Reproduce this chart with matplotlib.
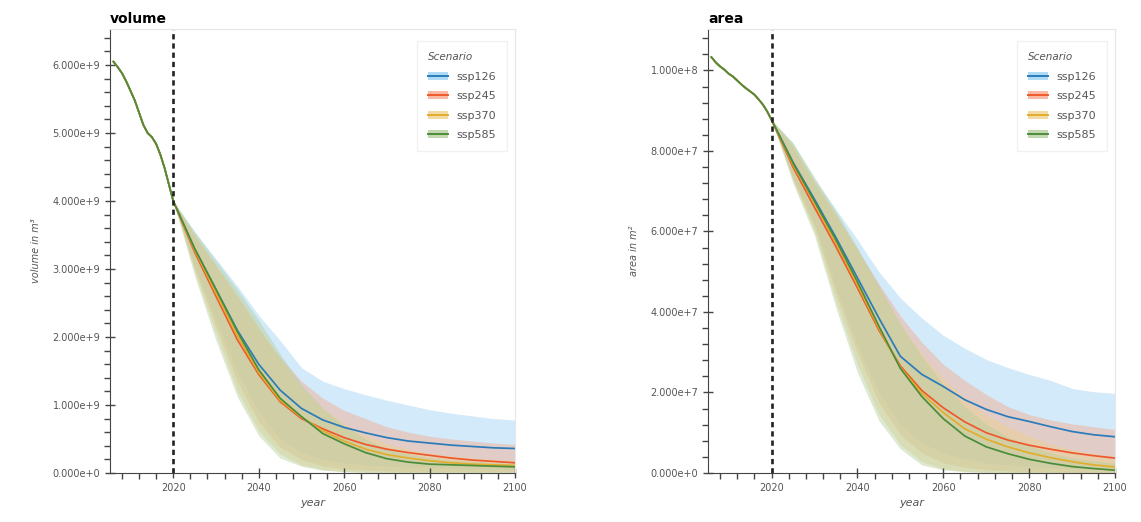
"""Glacier volume and area projections per SSP scenario (median + spread)."""

from __future__ import annotations

import matplotlib

matplotlib.use("Agg")
import matplotlib.pyplot as plt  # noqa: E402
import numpy as np  # noqa: E402
from matplotlib.lines import Line2D  # noqa: E402
from matplotlib.patches import Patch  # noqa: E402
from matplotlib.ticker import FuncFormatter, MultipleLocator  # noqa: E402

SCENARIOS = ["ssp126", "ssp245", "ssp370", "ssp585"]
COLORS = {"ssp126": "#2b7bba", "ssp245": "#f0582c", "ssp370": "#e3ad2c", "ssp585": "#4a8c3a"}
BAND_COLORS = {"ssp126": "#9dd2f2", "ssp245": "#f5a88e", "ssp370": "#edd28e", "ssp585": "#b5cf9c"}

HIST_YEARS = np.arange(2006, 2021)
FUT_YEARS = np.arange(2020, 2101, 5)

# volume, 1e9 m3
VOL_HIST = [6.05, 5.97, 5.88, 5.76, 5.62, 5.48, 5.30, 5.12, 5.00, 4.94, 4.84, 4.68, 4.48, 4.24, 4.00]
VOL_MED = {
    "ssp126": [4.0, 3.30, 2.70, 2.10, 1.60, 1.22, 0.95, 0.78, 0.67, 0.59, 0.52, 0.47, 0.44, 0.41, 0.39, 0.37, 0.36],
    "ssp245": [4.0, 3.25, 2.60, 1.96, 1.45, 1.05, 0.80, 0.65, 0.52, 0.42, 0.35, 0.30, 0.26, 0.22, 0.19, 0.17, 0.15],
    "ssp370": [4.0, 3.28, 2.65, 2.02, 1.48, 1.07, 0.82, 0.62, 0.47, 0.35, 0.27, 0.22, 0.18, 0.15, 0.13, 0.12, 0.11],
    "ssp585": [4.0, 3.30, 2.70, 2.08, 1.52, 1.10, 0.83, 0.58, 0.43, 0.30, 0.21, 0.16, 0.13, 0.12, 0.11, 0.10, 0.09],
}
VOL_LOW = {
    "ssp126": [4.0, 3.05, 2.25, 1.50, 0.90, 0.50, 0.30, 0.20, 0.15, 0.12, 0.10, 0.09, 0.08, 0.07, 0.06, 0.06, 0.05],
    "ssp245": [4.0, 3.00, 2.15, 1.35, 0.75, 0.38, 0.20, 0.10, 0.06, 0.04, 0.03, 0.02, 0.02, 0.02, 0.02, 0.02, 0.02],
    "ssp370": [4.0, 2.95, 2.05, 1.20, 0.62, 0.28, 0.12, 0.05, 0.02, 0.01, 0.01, 0.0, 0.0, 0.0, 0.0, 0.0, 0.0],
    "ssp585": [4.0, 2.90, 1.95, 1.12, 0.55, 0.22, 0.10, 0.04, 0.02, 0.01, 0.0, 0.0, 0.0, 0.0, 0.0, 0.0, 0.0],
}
VOL_HIGH = {
    "ssp126": [4.0, 3.55, 3.15, 2.75, 2.32, 1.95, 1.55, 1.35, 1.24, 1.15, 1.07, 1.00, 0.93, 0.88, 0.84, 0.80, 0.78],
    "ssp245": [4.0, 3.50, 3.05, 2.60, 2.12, 1.70, 1.35, 1.10, 0.92, 0.80, 0.68, 0.60, 0.54, 0.50, 0.47, 0.44, 0.42],
    "ssp370": [4.0, 3.50, 3.05, 2.62, 2.15, 1.68, 1.25, 0.95, 0.72, 0.55, 0.43, 0.35, 0.29, 0.25, 0.22, 0.20, 0.18],
    "ssp585": [4.0, 3.55, 3.12, 2.70, 2.25, 1.75, 1.30, 0.95, 0.70, 0.50, 0.36, 0.28, 0.22, 0.19, 0.17, 0.15, 0.14],
}

# area, 1e7 m2
AREA_HIST = [10.33, 10.20, 10.10, 10.02, 9.92, 9.85, 9.75, 9.65, 9.56, 9.48, 9.40, 9.28, 9.15, 8.98, 8.77]
AREA_MED = {
    "ssp126": [8.77, 7.72, 6.80, 5.85, 4.85, 3.85, 2.90, 2.45, 2.15, 1.82, 1.58, 1.40, 1.28, 1.15, 1.03, 0.95, 0.90],
    "ssp245": [8.77, 7.60, 6.60, 5.62, 4.60, 3.55, 2.66, 2.05, 1.62, 1.27, 1.00, 0.82, 0.69, 0.59, 0.50, 0.43, 0.37],
    "ssp370": [8.77, 7.66, 6.70, 5.72, 4.68, 3.60, 2.62, 1.98, 1.50, 1.10, 0.84, 0.65, 0.50, 0.38, 0.28, 0.20, 0.15],
    "ssp585": [8.77, 7.70, 6.75, 5.79, 4.75, 3.65, 2.60, 1.90, 1.35, 0.92, 0.65, 0.48, 0.34, 0.24, 0.16, 0.11, 0.07],
}
AREA_LOW = {
    "ssp126": [8.77, 7.35, 6.20, 4.60, 3.20, 2.00, 1.20, 0.75, 0.50, 0.35, 0.25, 0.20, 0.16, 0.13, 0.11, 0.10, 0.09],
    "ssp245": [8.77, 7.30, 6.10, 4.45, 3.00, 1.75, 0.95, 0.50, 0.25, 0.14, 0.08, 0.05, 0.03, 0.02, 0.02, 0.01, 0.01],
    "ssp370": [8.77, 7.25, 6.00, 4.25, 2.70, 1.45, 0.70, 0.28, 0.10, 0.04, 0.02, 0.01, 0.0, 0.0, 0.0, 0.0, 0.0],
    "ssp585": [8.77, 7.20, 5.90, 4.10, 2.50, 1.30, 0.60, 0.20, 0.08, 0.03, 0.01, 0.0, 0.0, 0.0, 0.0, 0.0, 0.0],
}
AREA_HIGH = {
    "ssp126": [8.77, 8.20, 7.30, 6.55, 5.80, 5.00, 4.35, 3.85, 3.42, 3.10, 2.82, 2.62, 2.45, 2.30, 2.10, 2.02, 1.98],
    "ssp245": [8.77, 8.10, 7.20, 6.40, 5.55, 4.70, 3.90, 3.25, 2.70, 2.30, 1.95, 1.65, 1.45, 1.32, 1.22, 1.15, 1.08],
    "ssp370": [8.77, 8.15, 7.25, 6.45, 5.55, 4.60, 3.70, 2.95, 2.35, 1.85, 1.45, 1.15, 0.92, 0.72, 0.58, 0.47, 0.40],
    "ssp585": [8.77, 8.20, 7.35, 6.50, 5.60, 4.65, 3.70, 2.90, 2.20, 1.65, 1.22, 0.90, 0.68, 0.50, 0.38, 0.30, 0.24],
}

TICK_GRAY = "#555555"


def _sci(v: float, _pos=None) -> str:
    if v == 0:
        return "0.000e+0"
    exp = int(np.floor(np.log10(abs(v)) + 1e-9))
    return f"{v / 10 ** exp:.3f}e+{exp}"


def _draw_panel(ax, title, ylabel, scale, hist, med, low, high, ymax, ystep):
    for s in SCENARIOS:
        ax.fill_between(FUT_YEARS, np.array(low[s]) * scale, np.array(high[s]) * scale,
                        color=BAND_COLORS[s], alpha=0.45, linewidth=0)
    for s in SCENARIOS:
        years = np.concatenate([HIST_YEARS, FUT_YEARS[1:]])
        vals = np.concatenate([hist, med[s][1:]]) * scale
        ax.plot(years, vals, color=COLORS[s], linewidth=1.25)

    ax.axvline(2020, color="#222222", linestyle=(0, (2.0, 1.5)), linewidth=1.9)

    ax.set_xlim(2005.2, 2100)
    ax.set_ylim(0, ymax)
    ax.xaxis.set_major_locator(MultipleLocator(20))
    ax.xaxis.set_minor_locator(MultipleLocator(4))
    ax.yaxis.set_major_locator(MultipleLocator(ystep))
    ax.yaxis.set_minor_locator(MultipleLocator(ystep / 5))
    ax.yaxis.set_major_formatter(FuncFormatter(_sci))
    ax.set_xticks([2020, 2040, 2060, 2080, 2100])

    ax.tick_params(which="major", direction="inout", length=7, width=1, color="#444444",
                   labelsize=7, labelcolor=TICK_GRAY)
    ax.tick_params(which="minor", direction="out", length=4, width=1, color="#444444")
    for side in ("left", "bottom"):
        ax.spines[side].set_color("#444444")
    for side in ("top", "right"):
        ax.spines[side].set_color("#e6e6e6")

    ax.set_title(title, loc="left", fontsize=10, fontweight="bold", pad=4)
    ax.set_xlabel("year", fontsize=8, style="italic", color=TICK_GRAY)
    ax.set_ylabel(ylabel, fontsize=7, style="italic", color=TICK_GRAY, labelpad=8)

    handles = [
        (Patch(facecolor=BAND_COLORS[s], alpha=0.8, edgecolor="none"),
         Line2D([], [], color=COLORS[s], linewidth=1.4))
        for s in SCENARIOS
    ]
    leg = ax.legend(handles, SCENARIOS, title="Scenario", loc="upper right",
                    bbox_to_anchor=(0.995, 0.985), fontsize=8, title_fontsize=7.5,
                    frameon=True, fancybox=False, edgecolor="#eeeeee",
                    labelcolor="#555555", handlelength=1.8, labelspacing=0.85,
                    borderpad=1.0, alignment="left")
    leg.get_title().set_style("italic")
    leg.get_title().set_color(TICK_GRAY)


def main() -> int:
    fig = plt.figure(figsize=(11.41, 5.22), dpi=100)
    ax_v = fig.add_axes([0.0964, 0.0939, 0.355, 0.8506])
    ax_a = fig.add_axes([0.6205, 0.0939, 0.3567, 0.8506])

    _draw_panel(ax_v, "volume", "volume in m³", 1e9, VOL_HIST, VOL_MED, VOL_LOW, VOL_HIGH, 6.53e9, 1e9)
    _draw_panel(ax_a, "area", "area in m²", 1e7, AREA_HIST, AREA_MED, AREA_LOW, AREA_HIGH, 1.103e8, 2e7)

    fig.savefig("out.png", dpi=100)
    plt.close(fig)
    return 0


if __name__ == "__main__":
    raise SystemExit(main())
